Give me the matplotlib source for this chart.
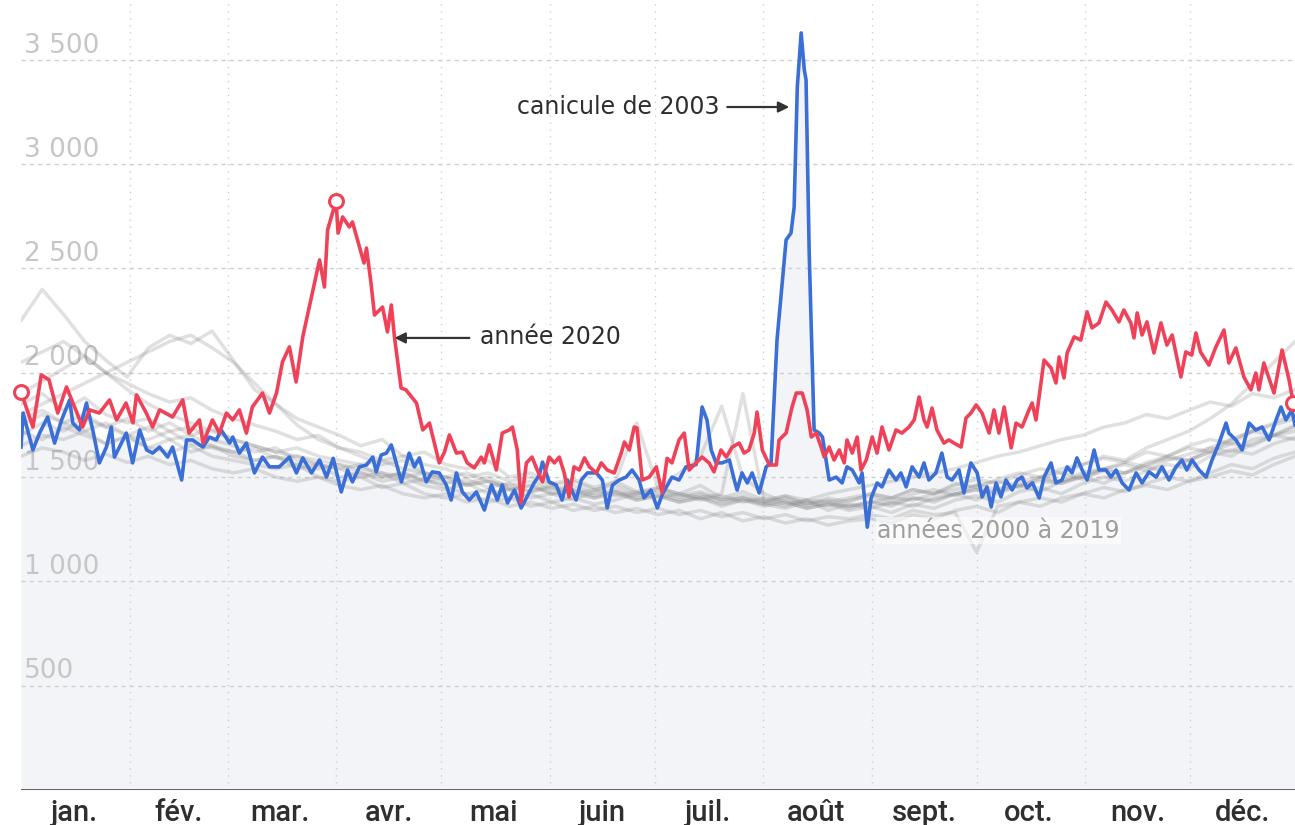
import matplotlib
matplotlib.use("Agg")
import matplotlib.pyplot as plt
import matplotlib.transforms as mtransforms
import numpy as np

# month boundaries (day of year) and labels
month_starts = [31, 59, 90, 120, 151, 181, 212, 243, 273, 304, 334]
month_mids = [15, 45, 74, 105, 135, 166, 196, 227, 258, 288, 319, 349]
month_labels = ["jan.", "fév.", "mar.", "avr.", "mai", "juin", "juil.", "août",
                "sept.", "oct.", "nov.", "déc."]
y_ticks = [500, 1000, 1500, 2000, 2500, 3000, 3500]
y_labels = ["500", "1 000", "1 500", "2 000", "2 500", "3 000", "3 500"]

# 2020 (red)
red_days = [0, 3.4, 5.8, 8, 10.5, 13, 15.3, 17.6, 19.6, 22.4, 25.3, 27.3, 30, 32, 33, 35.8, 37.6, 39.6,
            43.3, 46.2, 48, 51, 52, 54.7, 56.7, 58.7, 60.5, 62.4, 64.4, 66.1, 69, 71, 73, 74.7, 76.7,
            78.6, 80.5, 83, 85.3, 86.7, 87.6, 90, 90.6, 91.9, 93.8, 94.7, 96.7, 98, 98.7, 100, 101,
            103.3, 104.7, 105.8, 106.7, 108.6, 110, 113, 114.8, 116.7, 118.6, 119.5, 121, 122.4, 124.4,
            126.1, 127.5, 129.5, 131.5, 132.4, 133.8, 135.8, 137.5, 139.5, 140.4, 141.8, 142.9, 144.4,
            146, 147.5, 149, 150.9, 152.4, 153.8, 155.2, 156.6, 158, 159.5, 161, 162.4, 164.4, 165.8,
            167.5, 169.5, 171.5, 172.4, 173.8, 175.2, 176, 177.5, 179.5, 181.5, 183.2, 184.6, 186, 188,
            189.5, 190.9, 192.9, 194.6, 196.6, 198, 200, 201.5, 203.2, 205.2, 206.6, 208, 209.5, 210.3,
            211.8, 213.8, 215.8, 216.6, 218.6, 220.3, 221.5, 223.2, 224.6, 225.8, 227.2, 228.6, 229.5,
            230.9, 232.3, 233.8, 235.2, 236, 237.5, 238.9, 240, 241.5, 243.2, 244.6, 246, 248, 250,
            251.7, 253.7, 255.2, 256.6, 258, 258.9, 260.3, 261.7, 263.7, 265.1, 266.6, 268.6, 270,
            271.4, 272.9, 274.6, 276.6, 278, 279.4, 280.9, 282.9, 284.3, 286, 288, 288.9, 290, 292.3,
            294.3, 295.7, 296.6, 298, 298.9, 300.9, 302.8, 304.6, 306, 308, 310, 311.7, 313.7, 315.1,
            317.1, 318, 318.9, 320.3, 321.7, 323.7, 325.7, 327.4, 328.9, 331.4, 332.8, 334.5, 335.7,
            337, 339.4, 341.4, 343.7, 345.1, 347.1, 349.4, 351.4, 352.8, 353.7, 355.1, 358, 360.3,
            362.3, 363.5]
red_vals = [1908, 1740, 1990, 1966, 1807, 1932, 1836, 1740, 1822, 1807, 1870, 1774, 1855, 1760, 1894,
            1807, 1740, 1822, 1788, 1870, 1711, 1774, 1663, 1774, 1711, 1807, 1774, 1822, 1711, 1836,
            1903, 1807, 1903, 2052, 2124, 1956, 2172, 2363, 2541, 2411, 2685, 2824, 2670, 2747, 2699,
            2723, 2603, 2526, 2598, 2430, 2277, 2315, 2196, 2325, 2172, 1927, 1918, 1855, 1726, 1759,
            1630, 1568, 1620, 1702, 1615, 1620, 1568, 1544, 1596, 1568, 1654, 1534, 1711, 1726, 1740,
            1630, 1376, 1568, 1596, 1534, 1477, 1596, 1568, 1596, 1520, 1405, 1549, 1534, 1592, 1549,
            1520, 1568, 1534, 1520, 1615, 1668, 1630, 1740, 1735, 1486, 1500, 1549, 1424, 1590, 1568,
            1678, 1711, 1534, 1568, 1596, 1568, 1525, 1630, 1596, 1644, 1663, 1615, 1630, 1711, 1812,
            1630, 1558, 1558, 1678, 1711, 1836, 1903, 1903, 1822, 1692, 1711, 1644, 1596, 1644, 1582,
            1630, 1568, 1678, 1615, 1692, 1534, 1582, 1692, 1615, 1740, 1630, 1726, 1711, 1740, 1774,
            1884, 1774, 1740, 1831, 1726, 1663, 1678, 1663, 1644, 1783, 1807, 1846, 1807, 1711, 1822,
            1711, 1836, 1640, 1759, 1740, 1822, 1855, 1774, 2061, 2023, 1951, 2076, 1975, 2095, 2172,
            2157, 2292, 2215, 2239, 2339, 2301, 2244, 2301, 2239, 2167, 2287, 2181, 2244, 2095, 2239,
            2133, 2181, 1980, 2100, 2085, 2191, 2100, 2037, 2124, 2205, 2047, 2119, 1980, 1918, 1999,
            1918, 2047, 1903, 2109, 1966, 1855]

# 2003 (blue)
blue_days = [0, 0.6, 3.4, 5.3, 7.6, 9.6, 11.6, 13.9, 14.8, 16.7, 18.7, 20.5, 22.4, 24.4, 25.8, 26.7,
             28.7, 30.1, 31.9, 33.9, 35.9, 37.6, 39.6, 41.9, 43.3, 45.9, 47.3, 49, 52, 53.8, 55.8, 57.2,
             59.6, 60.5, 62.4, 64.4, 66.7, 69, 71, 73.8, 76.7, 78.7, 80.5, 83, 85.3, 87.3, 89.2, 91.5,
             93.3, 94.7, 96.7, 98.7, 100.5, 101.5, 102.9, 104.4, 105.8, 107.2, 108.7, 110.9, 112.4,
             113.8, 115.8, 117.5, 119.5, 121.5, 122.9, 124.4, 126.1, 128.1, 130.1, 132.4, 134.4, 136.1,
             137.5, 139, 141, 142.9, 144.4, 146.6, 148.1, 149, 150.9, 152.9, 154.6, 156.1, 158.6, 160.1,
             161.8, 164.4, 166.1, 167.5, 169, 170.9, 172.9, 174.6, 176.6, 178, 180, 181.8, 183.3, 186,
             188, 190, 192.9, 194.6, 196, 197.2, 198.6, 200.3, 202.4, 203.8, 204.6, 206, 207.5, 208.9,
             210.9, 212.9, 214.3, 216, 218.6, 220, 220.9, 221.8, 222.9, 223.8, 224.3, 225.2, 226.6,
             228.1, 229, 230, 230.9, 232.9, 234.6, 236, 237.5, 239.5, 240.3, 241.8, 242.9, 244.6, 246,
             248, 250, 251.4, 252.9, 254.6, 256.6, 258, 259.4, 261.4, 263.1, 264.6, 266, 268, 269.4,
             271.4, 273.2, 274.6, 276, 277.2, 278.6, 280, 281.4, 283.2, 284.6, 286, 287.4, 289, 290.9,
             292.3, 294.3, 295.7, 297.4, 298.9, 300.3, 301.7, 303.2, 304.6, 306.6, 308, 310, 311.4,
             312.9, 314.6, 316.6, 318.6, 320.3, 322.3, 324.3, 326, 328, 330, 331.7, 333.1, 334.6, 336.6,
             338.6, 340.3, 342.3, 344.3, 345.1, 347.1, 348.9, 350.9, 352.8, 354.6, 356.6, 358.6, 360,
             361.4, 363.1, 364]
blue_vals = [1644, 1807, 1630, 1711, 1788, 1663, 1774, 1870, 1759, 1726, 1855, 1726, 1568, 1644, 1740,
             1596, 1663, 1711, 1568, 1726, 1630, 1615, 1644, 1596, 1644, 1486, 1678, 1678, 1644, 1692,
             1678, 1726, 1663, 1692, 1615, 1663, 1520, 1596, 1549, 1549, 1596, 1520, 1592, 1520, 1582,
             1500, 1590, 1429, 1534, 1477, 1549, 1558, 1596, 1525, 1606, 1615, 1654, 1568, 1477, 1615,
             1549, 1592, 1477, 1525, 1520, 1462, 1390, 1520, 1429, 1390, 1429, 1342, 1462, 1390, 1462,
             1376, 1438, 1352, 1400, 1472, 1510, 1572, 1477, 1462, 1390, 1486, 1390, 1486, 1520, 1520,
             1486, 1352, 1462, 1486, 1500, 1534, 1486, 1400, 1438, 1352, 1420, 1500, 1486, 1549, 1560,
             1836, 1774, 1630, 1568, 1568, 1582, 1486, 1438, 1520, 1472, 1520, 1424, 1549, 1568, 2157,
             2637, 2670, 2795, 3370, 3629, 3452, 3404, 2574, 1726, 1711, 1692, 1582, 1486, 1500, 1472,
             1549, 1534, 1472, 1520, 1260, 1400, 1472, 1453, 1534, 1486, 1520, 1453, 1549, 1500, 1568,
             1486, 1520, 1615, 1500, 1486, 1534, 1424, 1568, 1520, 1405, 1453, 1357, 1472, 1405, 1486,
             1438, 1486, 1500, 1448, 1472, 1400, 1500, 1568, 1472, 1486, 1549, 1520, 1592, 1534, 1486,
             1630, 1534, 1534, 1500, 1534, 1472, 1438, 1520, 1472, 1525, 1500, 1549, 1486, 1549, 1582,
             1534, 1582, 1534, 1500, 1582, 1663, 1759, 1711, 1678, 1630, 1759, 1726, 1740, 1678, 1774,
             1836, 1774, 1822, 1750]

# other years 2000-2019, one value every ~6 days
grey_days = np.linspace(0, 364, 61)
grey_years = [
    [2250, 2400, 2280, 2150, 2060, 1980, 2120, 2180, 2140, 2200,
     2060, 1920, 1850, 1780, 1740, 1700, 1650, 1680, 1600, 1620,
     1560, 1540, 1580, 1500, 1520, 1470, 1490, 1450, 1480, 1430,
     1450, 1420, 1460, 1400, 1430, 1390, 1410, 1370, 1400, 1380,
     1420, 1400, 1440, 1420, 1470, 1450, 1490, 1520, 1500, 1540,
     1560, 1590, 1570, 1620, 1600, 1650, 1680, 1660, 1720, 1750, 1780],
    [1800, 1850, 1900, 1950, 2000, 2050, 2100, 2150, 2180, 2120,
     2050, 1950, 1850, 1750, 1680, 1640, 1600, 1560, 1580, 1520,
     1500, 1470, 1500, 1450, 1430, 1460, 1420, 1400, 1430, 1390,
     1410, 1380, 1400, 1360, 1390, 1370, 1350, 1380, 1360, 1390,
     1410, 1380, 1420, 1440, 1410, 1460, 1480, 1450, 1500, 1520,
     1490, 1540, 1560, 1530, 1580, 1610, 1640, 1620, 1680, 1700, 1720],
    [1700, 1760, 1720, 1780, 1740, 1700, 1680, 1720, 1660, 1640,
     1620, 1580, 1600, 1540, 1560, 1500, 1520, 1480, 1500, 1460,
     1440, 1470, 1420, 1440, 1400, 1420, 1390, 1430, 1480, 1760,
     1450, 1420, 1400, 1420, 1900, 1380, 1360, 1390, 1340, 1370,
     1350, 1380, 1360, 1400, 1420, 1390, 1440, 1460, 1430, 1480,
     1500, 1470, 1520, 1550, 1520, 1580, 1620, 1600, 1660, 1700, 1680],
    [1850, 1900, 1820, 1880, 1800, 1760, 1780, 1720, 1740, 1680,
     1650, 1620, 1640, 1580, 1560, 1540, 1500, 1520, 1470, 1490,
     1450, 1420, 1440, 1400, 1420, 1380, 1400, 1370, 1390, 1420,
     1450, 1520, 1600, 1840, 1500, 1420, 1380, 1350, 1370, 1340,
     1360, 1330, 1370, 1350, 1390, 1410, 1380, 1430, 1450, 1420,
     1470, 1500, 1480, 1530, 1560, 1540, 1600, 1630, 1610, 1660, 1690],
    [1650, 1700, 1680, 1720, 1660, 1690, 1640, 1620, 1650, 1600,
     1580, 1560, 1540, 1560, 1500, 1480, 1500, 1450, 1470, 1420,
     1400, 1420, 1380, 1400, 1360, 1380, 1340, 1360, 1330, 1350,
     1320, 1340, 1300, 1330, 1290, 1310, 1280, 1300, 1270, 1290,
     1300, 1280, 1320, 1300, 1340, 1360, 1330, 1380, 1400, 1380,
     1420, 1450, 1430, 1470, 1500, 1480, 1520, 1560, 1540, 1590, 1620],
    [1780, 1820, 1760, 1800, 1740, 1780, 1720, 1760, 1700, 1730,
     1680, 1650, 1620, 1640, 1600, 1580, 1560, 1580, 1540, 1520,
     1500, 1520, 1480, 1460, 1480, 1440, 1460, 1420, 1440, 1410,
     1430, 1400, 1420, 1390, 1400, 1370, 1390, 1360, 1380, 1350,
     1380, 1400, 1390, 1420, 1440, 1460, 1440, 1480, 1500, 1480,
     1520, 1540, 1570, 1550, 1600, 1640, 1620, 1680, 1720, 1760, 1800],
    [2050, 2100, 2150, 2080, 2000, 1950, 1900, 1860, 1880, 1820,
     1780, 1750, 1720, 1680, 1700, 1640, 1620, 1580, 1600, 1560,
     1540, 1500, 1520, 1480, 1500, 1460, 1480, 1440, 1460, 1420,
     1440, 1410, 1430, 1390, 1410, 1380, 1400, 1370, 1390, 1360,
     1380, 1360, 1400, 1380, 1420, 1440, 1420, 1460, 1490, 1470,
     1510, 1540, 1520, 1570, 1600, 1580, 1640, 1680, 1720, 1700, 1750],
    [1720, 1680, 1740, 1700, 1660, 1700, 1640, 1680, 1620, 1650,
     1600, 1580, 1600, 1560, 1540, 1560, 1520, 1500, 1520, 1480,
     1470, 1490, 1450, 1470, 1430, 1450, 1420, 1440, 1410, 1430,
     1400, 1420, 1390, 1410, 1380, 1400, 1370, 1390, 1380, 1400,
     1420, 1400, 1440, 1420, 1460, 1490, 1470, 1510, 1540, 1520,
     1560, 1600, 1580, 1640, 1680, 1720, 1780, 1850, 1950, 2050, 2150],
    [1600, 1640, 1620, 1580, 1610, 1570, 1600, 1560, 1580, 1540,
     1520, 1540, 1500, 1480, 1500, 1460, 1440, 1460, 1420, 1400,
     1420, 1380, 1400, 1360, 1380, 1350, 1370, 1340, 1360, 1330,
     1350, 1320, 1340, 1310, 1330, 1300, 1320, 1290, 1310, 1300,
     1320, 1300, 1340, 1320, 1330, 1140, 1360, 1380, 1360, 1400,
     1420, 1400, 1440, 1460, 1440, 1480, 1500, 1530, 1510, 1560, 1600],
    [1900, 1960, 2020, 2080, 2000, 1920, 1850, 1800, 1760, 1720,
     1680, 1650, 1620, 1600, 1580, 1560, 1540, 1520, 1500, 1520,
     1480, 1460, 1480, 1440, 1460, 1420, 1440, 1400, 1420, 1390,
     1410, 1380, 1400, 1370, 1390, 1360, 1380, 1350, 1370, 1360,
     1380, 1370, 1400, 1390, 1420, 1440, 1430, 1460, 1480, 1470,
     1500, 1530, 1520, 1560, 1590, 1580, 1620, 1660, 1650, 1700, 1740],
    [1750, 1800, 1760, 1720, 1760, 1700, 1740, 1680, 1700, 1650,
     1620, 1640, 1590, 1600, 1560, 1540, 1560, 1500, 1520, 1480,
     1500, 1460, 1480, 1440, 1460, 1420, 1440, 1410, 1430, 1400,
     1420, 1390, 1410, 1380, 1400, 1380, 1410, 1390, 1420, 1440,
     1460, 1480, 1500, 1520, 1540, 1570, 1600, 1620, 1650, 1680,
     1700, 1740, 1760, 1800, 1780, 1820, 1860, 1840, 1900, 1880, 1920],
]

RED = "#ef4259"
BLUE = "#3b6fd8"

fig = plt.figure(figsize=(12.95, 8.25), dpi=100)
ax = fig.add_axes([21 / 1295, 35 / 825, 1274 / 1295, 790 / 825])
ax.set_xlim(0, 364)
ax.set_ylim(0, 3787)
for s in ax.spines.values():
    s.set_visible(False)
ax.set_xticks([])
ax.set_yticks([])

# light fill under 2003
ax.fill_between(blue_days, 0, blue_vals, color="#f3f4f7", lw=0, zorder=1)

# grid
for v in y_ticks:
    ax.axhline(v, color="#cfcfcf", lw=1, ls=(0, (3, 3)), zorder=2)
for d in month_starts:
    ax.axvline(d, color="#cfcfcf", lw=1, ls=(0, (1, 4)), zorder=2)
ax.axhline(0, color="#555555", lw=2, zorder=7)

# y labels
ytr = mtransforms.blended_transform_factory(ax.transAxes, ax.transData)
for v, lab in zip(y_ticks, y_labels):
    ax.text(0.0025, v + 35, lab, transform=ytr, ha="left", va="baseline",
            fontsize=19, color="#c6c6c6", family="DejaVu Sans", zorder=2.5)

# month labels
xtr = mtransforms.blended_transform_factory(ax.transData, fig.transFigure)
for d, lab in zip(month_mids, month_labels):
    ax.text(d, 4 / 825, lab, transform=xtr, ha="center", va="baseline",
            fontsize=21, color="#2f2f2f", family="Roboto", fontweight="medium")

for g in grey_years:
    ax.plot(grey_days, g, color="#858585", lw=2.5, alpha=0.25, zorder=3,
            solid_joinstyle="round")

ax.plot(blue_days, blue_vals, color=BLUE, lw=2.6, zorder=5, solid_joinstyle="round")
ax.plot(red_days, red_vals, color=RED, lw=2.6, zorder=6, solid_joinstyle="round")

# open circles on 2020
for i in [0, red_vals.index(max(red_vals)), len(red_vals) - 1]:
    ax.plot(red_days[i], red_vals[i], "o", ms=10, mfc="white", mec=RED, mew=2.2,
            zorder=8, clip_on=False)

arrow = dict(arrowstyle="-|>", color="#333333", lw=1.6, mutation_scale=16,
             shrinkA=0, shrinkB=0)
ax.annotate("", xy=(219.5, 3274), xytext=(201.8, 3274), arrowprops=arrow, zorder=9)
ax.text(199.5, 3274, "canicule de 2003", ha="right", va="center", fontsize=17,
        color="#2e2e2e", zorder=9)
ax.annotate("", xy=(106.7, 2167), xytext=(128.1, 2167), arrowprops=arrow, zorder=9)
ax.text(131, 2172, "année 2020", ha="left", va="center", fontsize=17,
        color="#2e2e2e", zorder=9)
ax.text(244.6, 1242, "années 2000 à 2019", ha="left", va="center", fontsize=17,
        color="#9e9e9e", zorder=9,
        bbox=dict(facecolor="white", edgecolor="none", alpha=0.6, pad=1))

fig.savefig("out.png", dpi=100, facecolor="white")
